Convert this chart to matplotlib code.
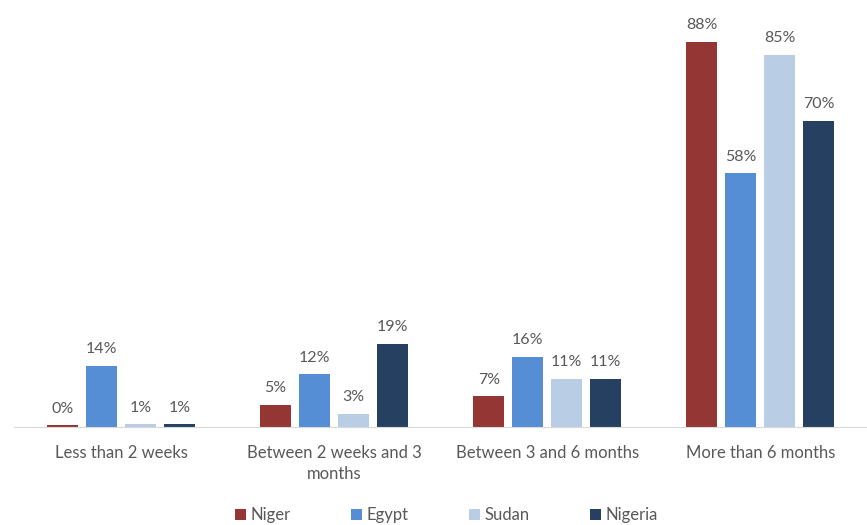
import numpy as np
import matplotlib.pyplot as plt

plt.rcParams['font.family'] = ['Lato', 'DejaVu Sans']

categories = ['Less than 2 weeks', 'Between 2 weeks and 3\nmonths',
              'Between 3 and 6 months', 'More than 6 months']
series = ['Niger', 'Egypt', 'Sudan', 'Nigeria']
niger = [0.4, 5, 7, 88]
egypt = [14, 12, 16, 58]
sudan = [0.6, 3, 11, 85]
nigeria = [0.6, 19, 11, 70]
colors = ['#943634', '#558ED5', '#B9CDE5', '#254061']

fig = plt.figure(figsize=(8.67, 5.25), dpi=100)
ax = fig.add_axes([0.0167, 0.1867, 0.9833, 0.775])

x = np.arange(len(categories))
step = 0.183
width = 0.146
for i, (name, vals) in enumerate(zip(series, [niger, egypt, sudan, nigeria])):
    pos = x + (i - 1.5) * step
    bars = ax.bar(pos, vals, width, color=colors[i], label=name)
    for b, v in zip(bars, vals):
        ax.text(b.get_x() + b.get_width() / 2, v + 2.2, f'{v:.0f}%',
                ha='center', va='bottom', fontsize=11.5, color='#595959')

ax.set_xlim(-0.5, 3.5)
ax.set_ylim(0, 93)
ax.set_yticks([])
ax.set_xticks(x)
ax.set_xticklabels(categories, fontsize=12, color='#595959', linespacing=1.35)
ax.tick_params(axis='x', length=0, pad=13)
for s in ['top', 'right', 'left']:
    ax.spines[s].set_visible(False)
ax.spines['bottom'].set_color('#D9D9D9')

fig.legend(loc='lower center', ncol=4, frameon=False, fontsize=12,
           labelcolor='#595959', handlelength=0.65, handleheight=0.65,
           handletextpad=0.3, columnspacing=3.6, bbox_to_anchor=(0.515, -0.025))

fig.savefig('out.png', dpi=100)
